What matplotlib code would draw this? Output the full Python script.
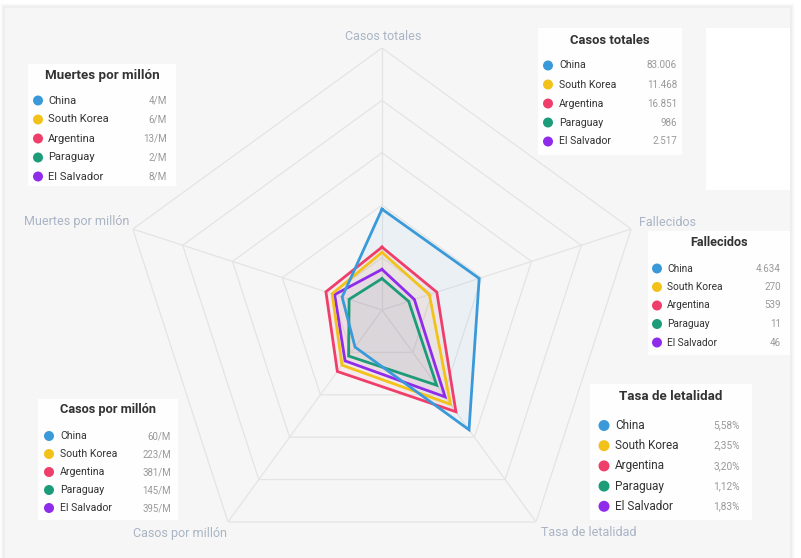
import numpy as np
import matplotlib
matplotlib.use("Agg")
import matplotlib.pyplot as plt
from matplotlib.patches import Rectangle, Ellipse

plt.rcParams['font.family'] = ['Roboto', 'DejaVu Sans']

# ---------------- data ----------------
countries = ["China", "South Korea", "Argentina", "Paraguay", "El Salvador"]
colors = ["#3a9ad9", "#f2c21b", "#f03e6a", "#1c9c78", "#8f2bea"]
axis_labels = ["Casos totales", "Fallecidos", "Tasa de letalidad",
               "Casos por millón", "Muertes por millón"]

# radial position on the chart scale (0-100), one value per axis
china = [38.5, 39.0, 56.5, 17.5, 16.0]
south_korea = [22.0, 19.0, 44.5, 26.0, 20.0]
argentina = [24.0, 22.0, 48.0, 29.0, 22.5]
paraguay = [12.0, 10.7, 35.5, 21.7, 13.2]
el_salvador = [15.5, 13.0, 41.0, 24.0, 19.0]
series = [china, south_korea, argentina, paraguay, el_salvador]

# legend table values
casos_totales = ["83.006", "11.468", "16.851", "986", "2.517"]
fallecidos = ["4.634", "270", "539", "11", "46"]
tasa_letalidad = ["5,58%", "2,35%", "3,20%", "1,12%", "1,83%"]
casos_por_millon = ["60/M", "223/M", "381/M", "145/M", "395/M"]
muertes_por_millon = ["4/M", "6/M", "13/M", "2/M", "8/M"]

ring_levels = [20, 40, 60, 80, 100]

# ---------------- figure ----------------
W, H = 801, 558
fig = plt.figure(figsize=(W / 100, H / 100), dpi=100)
fig.patch.set_facecolor("white")


def fx(x):
    return x / W


def fy(y):
    return 1 - y / H


# panel with soft shadow
for i, a in enumerate([0.02, 0.035, 0.05, 0.07]):
    d = 5 - i
    fig.patches.append(Rectangle((fx(5 - d), 0), (785 + 2 * d) / W, (H - 8 + d) / H,
                                 transform=fig.transFigure, facecolor="#a0a0a0",
                                 alpha=a, edgecolor="none", zorder=0))
fig.patches.append(Rectangle((fx(5), 0), 785 / W, (H - 8) / H,
                             transform=fig.transFigure, facecolor="#f6f6f6",
                             edgecolor="none", zorder=0.5))

# radar axes: centre (382,310) px, radius 262 px
cx, cy, R = 382, 310, 262
ax = fig.add_axes([fx(cx - R), fy(cy + R), 2 * R / W, 2 * R / H], projection="polar")
ax.set_zorder(1)
ax.set_theta_offset(np.pi / 2)
ax.set_theta_direction(-1)
ax.set_ylim(0, 100)
ax.set_facecolor("none")
ax.patch.set_alpha(0)
ax.spines["polar"].set_visible(False)
ax.grid(False)
ax.set_xticks([])
ax.set_yticks([])

n = len(axis_labels)
angles = np.linspace(0, 2 * np.pi, n, endpoint=False)
closed = np.append(angles, angles[0])

for lv in ring_levels:
    ax.plot(closed, [lv] * (n + 1), color="#e4e4e4", lw=0.9, zorder=1)
for a in angles:
    ax.plot([a, a], [0, 100], color="#e4e4e4", lw=0.9, zorder=1)

order = [3, 4, 1, 2, 0]
for i in order:
    vals = series[i] + [series[i][0]]
    ax.fill(closed, vals, color=colors[i], alpha=0.055, zorder=2, lw=0)
for i in order:
    vals = series[i] + [series[i][0]]
    ax.plot(closed, vals, color=colors[i], lw=2.0, zorder=3, solid_joinstyle="miter")

# axis labels
lab_color = "#a9b4c4"
label_pos = [(383, 36), (668, 222), (589, 533), (180, 533), (77, 222)]
for (x, y), txt in zip(label_pos, axis_labels):
    fig.text(fx(x), fy(y), txt, ha="center", va="center", fontsize=9, color=lab_color,
             zorder=2)


# legend boxes
def draw_box(x0, y0, x1, y1, title, values, title_y, row_ys, dot_x, name_x, val_x,
             tsize=9.3, rsize=7.6, vsize=7.1, dot_r=5):
    fig.patches.append(Rectangle((fx(x0), fy(y1)), (x1 - x0) / W, (y1 - y0) / H,
                                 transform=fig.transFigure, facecolor="white",
                                 alpha=0.94, edgecolor="none", zorder=5))
    fig.text(fx((x0 + x1) / 2), fy(title_y), title, ha="center", va="center",
             fontsize=tsize, fontweight="bold", color="#333333", zorder=6)
    for name, col, val, ry in zip(countries, colors, values, row_ys):
        fig.patches.append(Ellipse((fx(dot_x), fy(ry)), 2 * dot_r / W, 2 * dot_r / H,
                                   transform=fig.transFigure,
                                   facecolor=col, edgecolor="none", zorder=6))
        fig.text(fx(name_x), fy(ry), name, ha="left", va="center", fontsize=rsize,
                 color="#333333", zorder=6)
        fig.text(fx(val_x), fy(ry), val, ha="right", va="center", fontsize=vsize,
                 color="#999999", zorder=6)


def rows(y0, dy):
    return [y0 + k * dy for k in range(5)]


# Muertes por millón (top-left)
draw_box(28, 64, 176, 186, "Muertes por millón", muertes_por_millon, 76,
         rows(100.5, 19), 38, 48, 167, tsize=9.6, rsize=8.0)
# Casos totales (top-right)
draw_box(538, 28, 682, 155, "Casos totales", casos_totales, 40,
         rows(65.5, 19), 548, 559, 677, tsize=9.4, rsize=7.6)
# blank white panel right of it
fig.patches.append(Rectangle((fx(706), fy(190)), (790 - 706) / W, (190 - 28) / H,
                             transform=fig.transFigure, facecolor="white",
                             edgecolor="none", zorder=5))
# Fallecidos (right)
draw_box(648, 231, 790, 355, "Fallecidos", fallecidos, 242,
         rows(268.5, 18.5), 657, 667, 781, tsize=9.1, rsize=7.3)
# Tasa de letalidad (bottom-right)
draw_box(590, 384, 752, 520, "Tasa de letalidad", tasa_letalidad, 397,
         rows(425.5, 20.2), 604, 615, 740, tsize=9.6, rsize=8.5, vsize=7.3, dot_r=5.5)
# Casos por millón (bottom-left)
draw_box(38, 399, 178, 520, "Casos por millón", casos_por_millon, 410,
         rows(436, 18), 49, 60, 171, tsize=9.2, rsize=7.6, vsize=6.9)

fig.savefig("out.png", dpi=100, facecolor=fig.get_facecolor())
